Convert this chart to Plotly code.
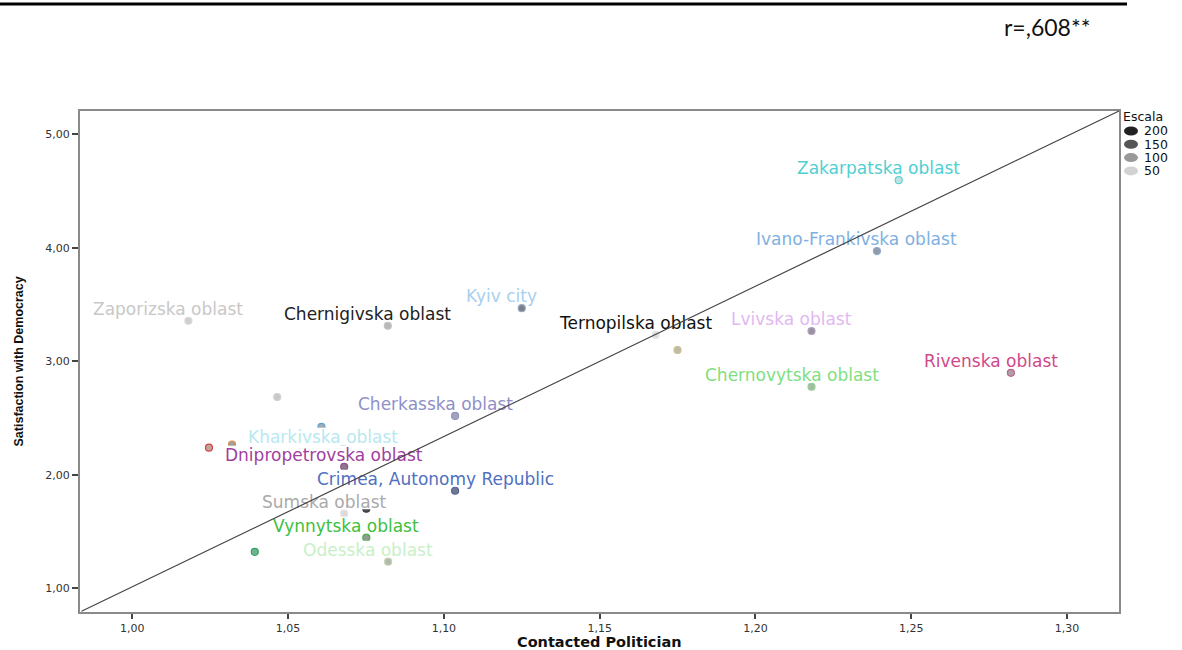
import plotly.graph_objects as go

# Regional averages: share who contacted a politician vs. satisfaction with democracy
regions = [
    "Zaporizska oblast", "Chernigivska oblast", "Kyiv city", "Ternopilska oblast", "",
    "Lvivska oblast", "Zakarpatska oblast", "Ivano-Frankivska oblast", "Rivenska oblast",
    "Chernovytska oblast", "", "Cherkasska oblast", "", "", "",
    "Kharkivska oblast", "Dnipropetrovska oblast", "Crimea, Autonomy Republic",
    "Sumska oblast", "", "Vynnytska oblast", "", "Odesska oblast",
]
contacted = [
    1.018, 1.082, 1.125, 1.168, 1.175,
    1.218, 1.246, 1.239, 1.282,
    1.218, 1.0465, 1.1036, 1.0607, 1.032, 1.0246,
    1.0677, 1.068, 1.1036,
    1.068, 1.0751, 1.0751, 1.0393, 1.0821,
]
satisfaction = [
    3.357, 3.313, 3.468, 3.233, 3.100,
    3.267, 4.596, 3.971, 2.899,
    2.776, 2.686, 2.519, 2.422, 2.266, 2.239,
    2.230, 2.071, 1.860,
    1.658, 1.702, 1.447, 1.322, 1.235,
]
fill_colors = [
    "#cfcfcf", "#b9b9b9", "#7b8089", "#dedede", "#bdbcaa",
    "#9b939c", "#bfe3e3", "#929aaa", "#aaa1aa",
    "#a9b9a9", "#c9c9c9", "#a3a3b9", "#a3abb3", "#a3a09c", "#c4a2a2",
    "#c4dce4", "#8b798a", "#717a8a",
    "#dcdcdc", "#4f4f4f", "#929c92", "#72b293", "#b2baaa",
]
edge_colors = [
    "#d9d9d9", "#c3c3c3", "#98a8bb", "#e6e6e6", "#c9c28c",
    "#b2a2c2", "#62d2d2", "#92aacb", "#c26282",
    "#92d292", "#d2d2d2", "#9292c2", "#62a2d2", "#d29252", "#d24242",
    "#b2e8f0", "#925292", "#5262a2",
    "#e2e2e2", "#3c3c3c", "#42b242", "#32a262", "#c2d2b2",
]
label_colors = {
    "Zaporizska oblast": "#c8c8c8", "Chernigivska oblast": "#222222",
    "Kyiv city": "#a8d0f0", "Ternopilska oblast": "#111111",
    "Lvivska oblast": "#e2b8f2", "Zakarpatska oblast": "#50d0d0",
    "Ivano-Frankivska oblast": "#80b0e0", "Rivenska oblast": "#d0488a",
    "Chernovytska oblast": "#80e080", "Cherkasska oblast": "#9090c8",
    "Kharkivska oblast": "#b8e8f0", "Dnipropetrovska oblast": "#a040a0",
    "Crimea, Autonomy Republic": "#5070c0", "Sumska oblast": "#aaaaaa",
    "Vynnytska oblast": "#40c040", "Odesska oblast": "#c8f0c8",
}

x_range = [0.9832, 1.3167]
y_range = [0.792, 5.205]
x_ticks = [1.00, 1.05, 1.10, 1.15, 1.20, 1.25, 1.30]
x_tick_text = ["1,00", "1,05", "1,10", "1,15", "1,20", "1,25", "1,30"]
y_ticks = [1.0, 2.0, 3.0, 4.0, 5.0]
y_tick_text = ["1,00", "2,00", "3,00", "4,00", "5,00"]

scale_values = ["200", "150", "100", "50"]
scale_colors = ["#222222", "#555555", "#999999", "#d2d2d2"]

label_font = "DejaVu Sans, Arial, sans-serif"
label_size = 17
label_dx, label_dy = -20, 12          # label offset from its marker, px
box_char_w = 10.0                      # knockout box width per character, px

fig = go.Figure()
fig.add_trace(go.Scatter(
    x=contacted, y=satisfaction, mode="markers",
    marker=dict(size=7, color=fill_colors,
                line=dict(color=edge_colors, width=1.2)),
    hoverinfo="skip", showlegend=False,
))

annotations = []
shapes = []
# Point labels: a white knockout box (above markers) and the text on top
for name, xv, yv in zip(regions, contacted, satisfaction):
    if not name:
        continue
    half_w = len(name) * box_char_w / 2
    shapes.append(dict(
        type="rect", xref="x", yref="y",
        xsizemode="pixel", ysizemode="pixel", xanchor=xv, yanchor=yv,
        x0=label_dx - half_w, x1=label_dx + half_w,
        y0=4.5, y1=21,
        fillcolor="white", line=dict(width=0), layer="above",
    ))
    annotations.append(dict(
        x=xv, y=yv, xref="x", yref="y", text=name, showarrow=False,
        xshift=label_dx, yshift=label_dy, xanchor="center", yanchor="middle",
        font=dict(family=label_font, size=label_size, color=label_colors[name]),
    ))

# Diagonal guide across the frame, drawn over the labels
annotations.append(dict(
    x=x_range[1], y=y_range[1], ax=x_range[0], ay=y_range[0],
    xref="x", yref="y", axref="x", ayref="y", text="",
    showarrow=True, arrowhead=0, arrowwidth=1.2, arrowcolor="#444444",
    standoff=0, startstandoff=0,
))

# Correlation note above the frame
annotations.append(dict(
    x=(1047 - 80) / 1039, y=(612 - 27) / 501, xref="paper", yref="paper",
    text="r=,608**", showarrow=False, xanchor="center", yanchor="middle",
    font=dict(family="Lato, Open Sans, sans-serif", size=23, color="#111111"),
))
# Axis titles
annotations.append(dict(
    x=(18 - 80) / 1039, y=0.5, xref="paper", yref="paper",
    text="<b>Satisfaction with Democracy</b>", showarrow=False, textangle=-90,
    xanchor="center", yanchor="middle",
    font=dict(family="Liberation Sans Narrow, Arial Narrow, sans-serif", size=12.5, color="#111111"),
))
annotations.append(dict(
    x=(599 - 80) / 1039, y=(612 - 642) / 501, xref="paper", yref="paper",
    text="<b>Contacted Politician</b>", showarrow=False,
    xanchor="center", yanchor="middle",
    font=dict(family="DejaVu Sans, Arial, sans-serif", size=14.5, color="#111111"),
))

# Scale key at the right edge
annotations.append(dict(
    x=(1121 - 80) / 1039, y=(612 - 116) / 501, xref="paper", yref="paper",
    text="Escala", showarrow=False, xanchor="left", yanchor="middle",
    font=dict(family=label_font, size=12.5, color="#111111"),
))
for i, (val, col) in enumerate(zip(scale_values, scale_colors)):
    py = 131 + i * 13.3
    ypaper = (612 - py) / 501
    annotations.append(dict(
        x=(1142 - 80) / 1039, y=ypaper, xref="paper", yref="paper",
        text=val, showarrow=False, xanchor="left", yanchor="middle",
        font=dict(family=label_font, size=12.5, color="#111111"),
    ))
    shapes.append(dict(
        type="circle", xref="paper", yref="paper",
        xsizemode="pixel", ysizemode="pixel",
        xanchor=(1131 - 80) / 1039, yanchor=ypaper,
        x0=-7, x1=7, y0=-4.5, y1=4.5,
        fillcolor=col, line=dict(width=0),
    ))

# Rule at the top of the page
shapes.append(dict(type="line", xref="paper", yref="paper",
                   x0=-80 / 1039, x1=(1127 - 80) / 1039,
                   y0=(612 - 4) / 501, y1=(612 - 4) / 501,
                   line=dict(color="#000000", width=3)))

axis_common = dict(
    showgrid=False, zeroline=False, showline=True, linecolor="#8a8a8a",
    linewidth=2, mirror=True, ticks="outside", tickwidth=1.5,
    tickcolor="#444444",
    tickfont=dict(family=label_font, size=11, color="#333333"),
)

fig.update_layout(
    width=1182, height=650,
    margin=dict(l=80, r=63, t=111, b=38),
    paper_bgcolor="white", plot_bgcolor="white",
    xaxis=dict(range=x_range, tickvals=x_ticks, ticktext=x_tick_text,
               ticklen=5, **axis_common),
    yaxis=dict(range=y_range, tickvals=y_ticks, ticktext=y_tick_text,
               ticklen=6, **axis_common),
    annotations=annotations, shapes=shapes,
    hovermode=False, showlegend=False,
)

fig.write_html("out.html", config={"displayModeBar": False})
